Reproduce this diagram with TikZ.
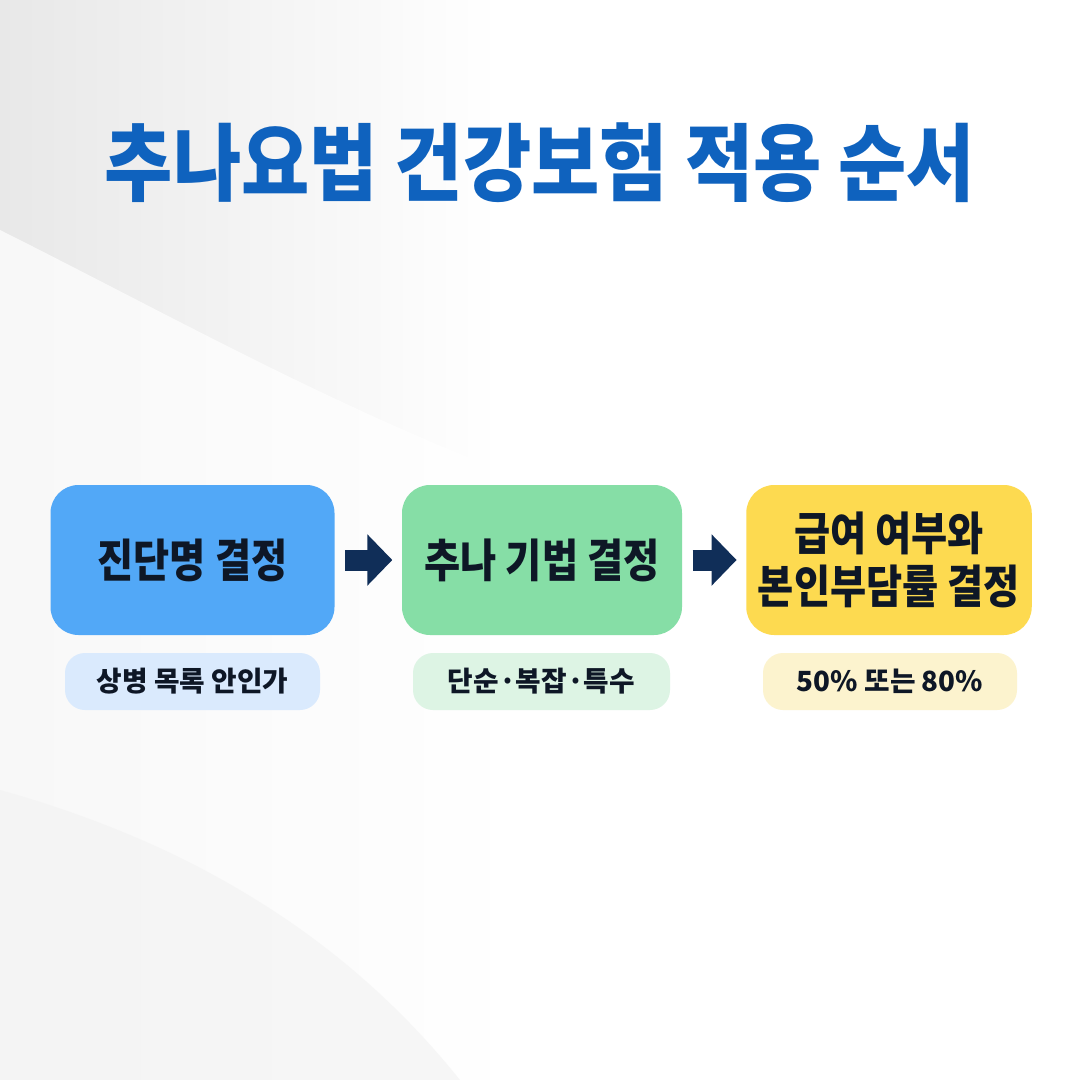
\documentclass[tikz,border=0pt]{standalone}
\usepackage{fontspec}
\newfontfamily\krtitle{Noto Sans CJK KR}[FakeStretch=0.88]
\newfontfamily\krfont{Noto Sans CJK KR}[FakeStretch=0.86]
\newfontfamily\krnote{Noto Sans CJK KR}
\usetikzlibrary{arrows.meta}
\definecolor{titleblue}{HTML}{0F62BE}
\definecolor{inkdark}{HTML}{0E1726}
\definecolor{arrownavy}{HTML}{102E58}
\definecolor{diagblue}{HTML}{52A8F7}
\definecolor{techgreen}{HTML}{86DEA6}
\definecolor{payyellow}{HTML}{FDDA50}
\definecolor{diagbluelight}{HTML}{DAEAFD}
\definecolor{techgreenlight}{HTML}{DDF4E4}
\definecolor{payyellowlight}{HTML}{FCF3CE}

\begin{document}
\begin{tikzpicture}
			\tikzstyle{stage} = [rounded corners=0.28cm,minimum width=2.84cm,minimum height=1.5cm,align=center,text=inkdark,font=\krfont\bfseries\fontsize{13}{15}\selectfont]
			\tikzstyle{hint}  = [rounded corners=0.2cm,minimum width=2.55cm,minimum height=0.57cm,text=inkdark,font=\krnote\bfseries\fontsize{7.9}{9}\selectfont]
			\tikzstyle{flow}  = [-{Triangle[width=0.5cm,length=0.25cm]},line width=0.21cm,draw=arrownavy,shorten <=0.1cm,shorten >=0.09cm]
			
			\useasboundingbox (0,0) rectangle (10.8,-10.8);
			\shade[left color=black!9,right color=white] (0,0) rectangle (5,-10.8);
			\fill[white] (5,0) rectangle (10.8,-10.8);
			\fill[white,opacity=0.7] (0,-2.3) .. controls (1.6,-3.1) and (3.2,-4) .. (5,-4.7) -- (5,-10.8) -- (0,-10.8) -- cycle;
			\fill[black!5,opacity=0.6] (0,-7.9) .. controls (1.8,-8.4) and (3.4,-9.3) .. (4.6,-10.8) -- (0,-10.8) -- cycle;
			
			\node[text=titleblue,font=\krtitle\bfseries\fontsize{24}{28}\selectfont] (title) at (5.4,-1.63) {추나요법 건강보험 적용 순서};
			
			\node[stage,fill=diagblue] (diagnosis) at (1.925,-5.6) {진단명 결정};
			\node[stage,fill=techgreen,minimum width=2.8cm] (technique) at (5.42,-5.6) {추나 기법 결정};
			\node[stage,fill=payyellow,minimum width=2.82cm] (coverage) at (8.89,-5.6) {급여 여부와\\본인부담률 결정};
			
			\node[hint,fill=diagbluelight] (diagnosisnote) at (1.925,-6.815) {상병 목록 안인가};
			\node[hint,fill=techgreenlight,minimum width=2.57cm] (techniquenote) at (5.415,-6.815) {단순·복잡·특수};
			\node[hint,fill=payyellowlight,minimum width=2.54cm] (coveragenote) at (8.9,-6.815) {50\% 또는 80\%};
			
			\path (diagnosis) edge[flow] (technique);
			\path (technique) edge[flow] (coverage);
		\end{tikzpicture}
\end{document}
